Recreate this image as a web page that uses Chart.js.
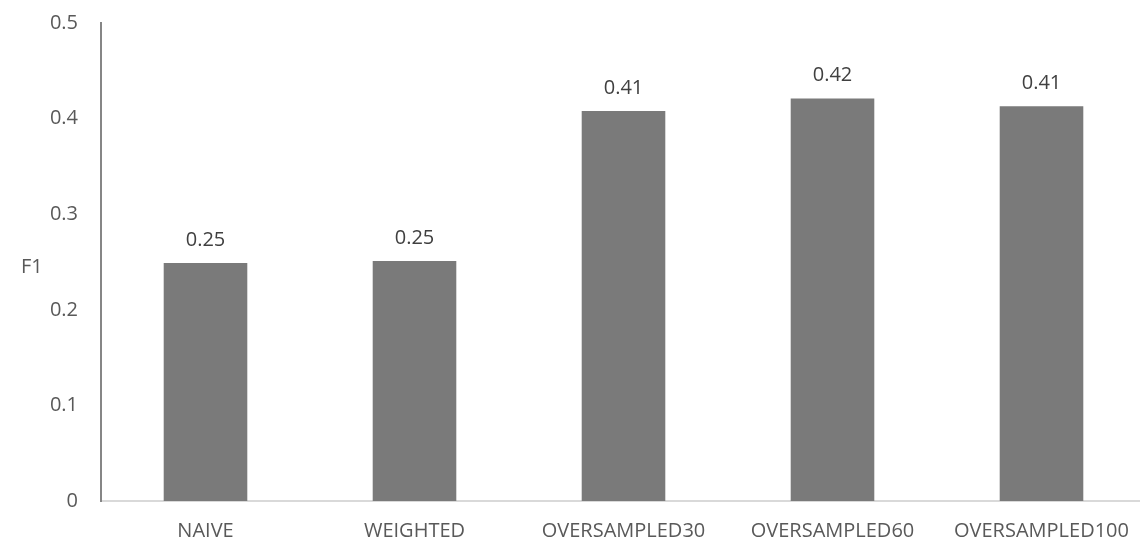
<!DOCTYPE html>
<html>
<head>
<meta charset="utf-8">
<script src="https://cdn.jsdelivr.net/npm/chart.js@4/dist/chart.umd.min.js"></script>
<style>
  html, body { margin: 0; padding: 0; background: #ffffff; overflow: hidden; }
  #wrap { width: 1150px; height: 545px; position: relative; }
</style>
</head>
<body>
<div id="wrap"><canvas id="chart"></canvas></div>
<script>
// F1 score for each training variant
const categories = ['NAIVE', 'WEIGHTED', 'OVERSAMPLED30', 'OVERSAMPLED60', 'OVERSAMPLED100'];
const f1Scores = [0.249, 0.251, 0.408, 0.421, 0.413];
const yTicks = [0, 0.1, 0.2, 0.3, 0.4, 0.5];

const FONT = '"Open Sans", "Noto Sans", sans-serif';
const TEXT = '#595959';

// writes the value above each bar
const valueLabels = {
  id: 'valueLabels',
  afterDatasetsDraw(chart) {
    const { ctx } = chart;
    const meta = chart.getDatasetMeta(0);
    ctx.save();
    ctx.font = '20px ' + FONT;
    ctx.fillStyle = '#404040';
    ctx.textAlign = 'center';
    ctx.textBaseline = 'middle';
    meta.data.forEach((bar, i) => {
      ctx.fillText(f1Scores[i].toFixed(2), bar.x, bar.y - 23);
    });
    ctx.restore();
  }
};

// horizontal axis title on the left
const yTitle = {
  id: 'yTitle',
  afterDraw(chart) {
    const { ctx } = chart;
    ctx.save();
    ctx.font = '20px ' + FONT;
    ctx.fillStyle = TEXT;
    ctx.textAlign = 'left';
    ctx.textBaseline = 'middle';
    ctx.fillText('F1', 21, 267);
    ctx.restore();
  }
};

new Chart(document.getElementById('chart'), {
  type: 'bar',
  data: {
    labels: categories,
    datasets: [{
      data: f1Scores,
      backgroundColor: '#7a7a7a',
      borderWidth: 0,
      barPercentage: 0.4,
      categoryPercentage: 1.0
    }]
  },
  options: {
    responsive: true,
    maintainAspectRatio: false,
    animation: false,
    layout: { padding: { left: 0, right: 4, top: 23, bottom: 0 } },
    plugins: { legend: { display: false }, tooltip: { enabled: false } },
    scales: {
      x: {
        afterFit(scale) { scale.height = 44; scale.paddingLeft = 0; scale.paddingRight = 0; },
        grid: { display: false, drawTicks: false },
        border: { color: '#d9d9d9', width: 2 },
        ticks: { color: TEXT, font: { family: FONT, size: 20 }, padding: 18, maxRotation: 0, autoSkip: false }
      },
      y: {
        min: 0,
        max: 0.5,
        afterFit(scale) { scale.width = 101; scale.paddingTop = 0; scale.paddingBottom = 0; },
        afterBuildTicks(axis) { axis.ticks = yTicks.map(v => ({ value: v })); },
        grid: { display: false, drawTicks: false },
        border: { color: '#868686', width: 2 },
        ticks: {
          color: TEXT,
          font: { family: FONT, size: 20 },
          padding: 23,
          callback: v => String(v)
        }
      }
    }
  },
  plugins: [valueLabels, yTitle]
});
</script>
</body>
</html>
